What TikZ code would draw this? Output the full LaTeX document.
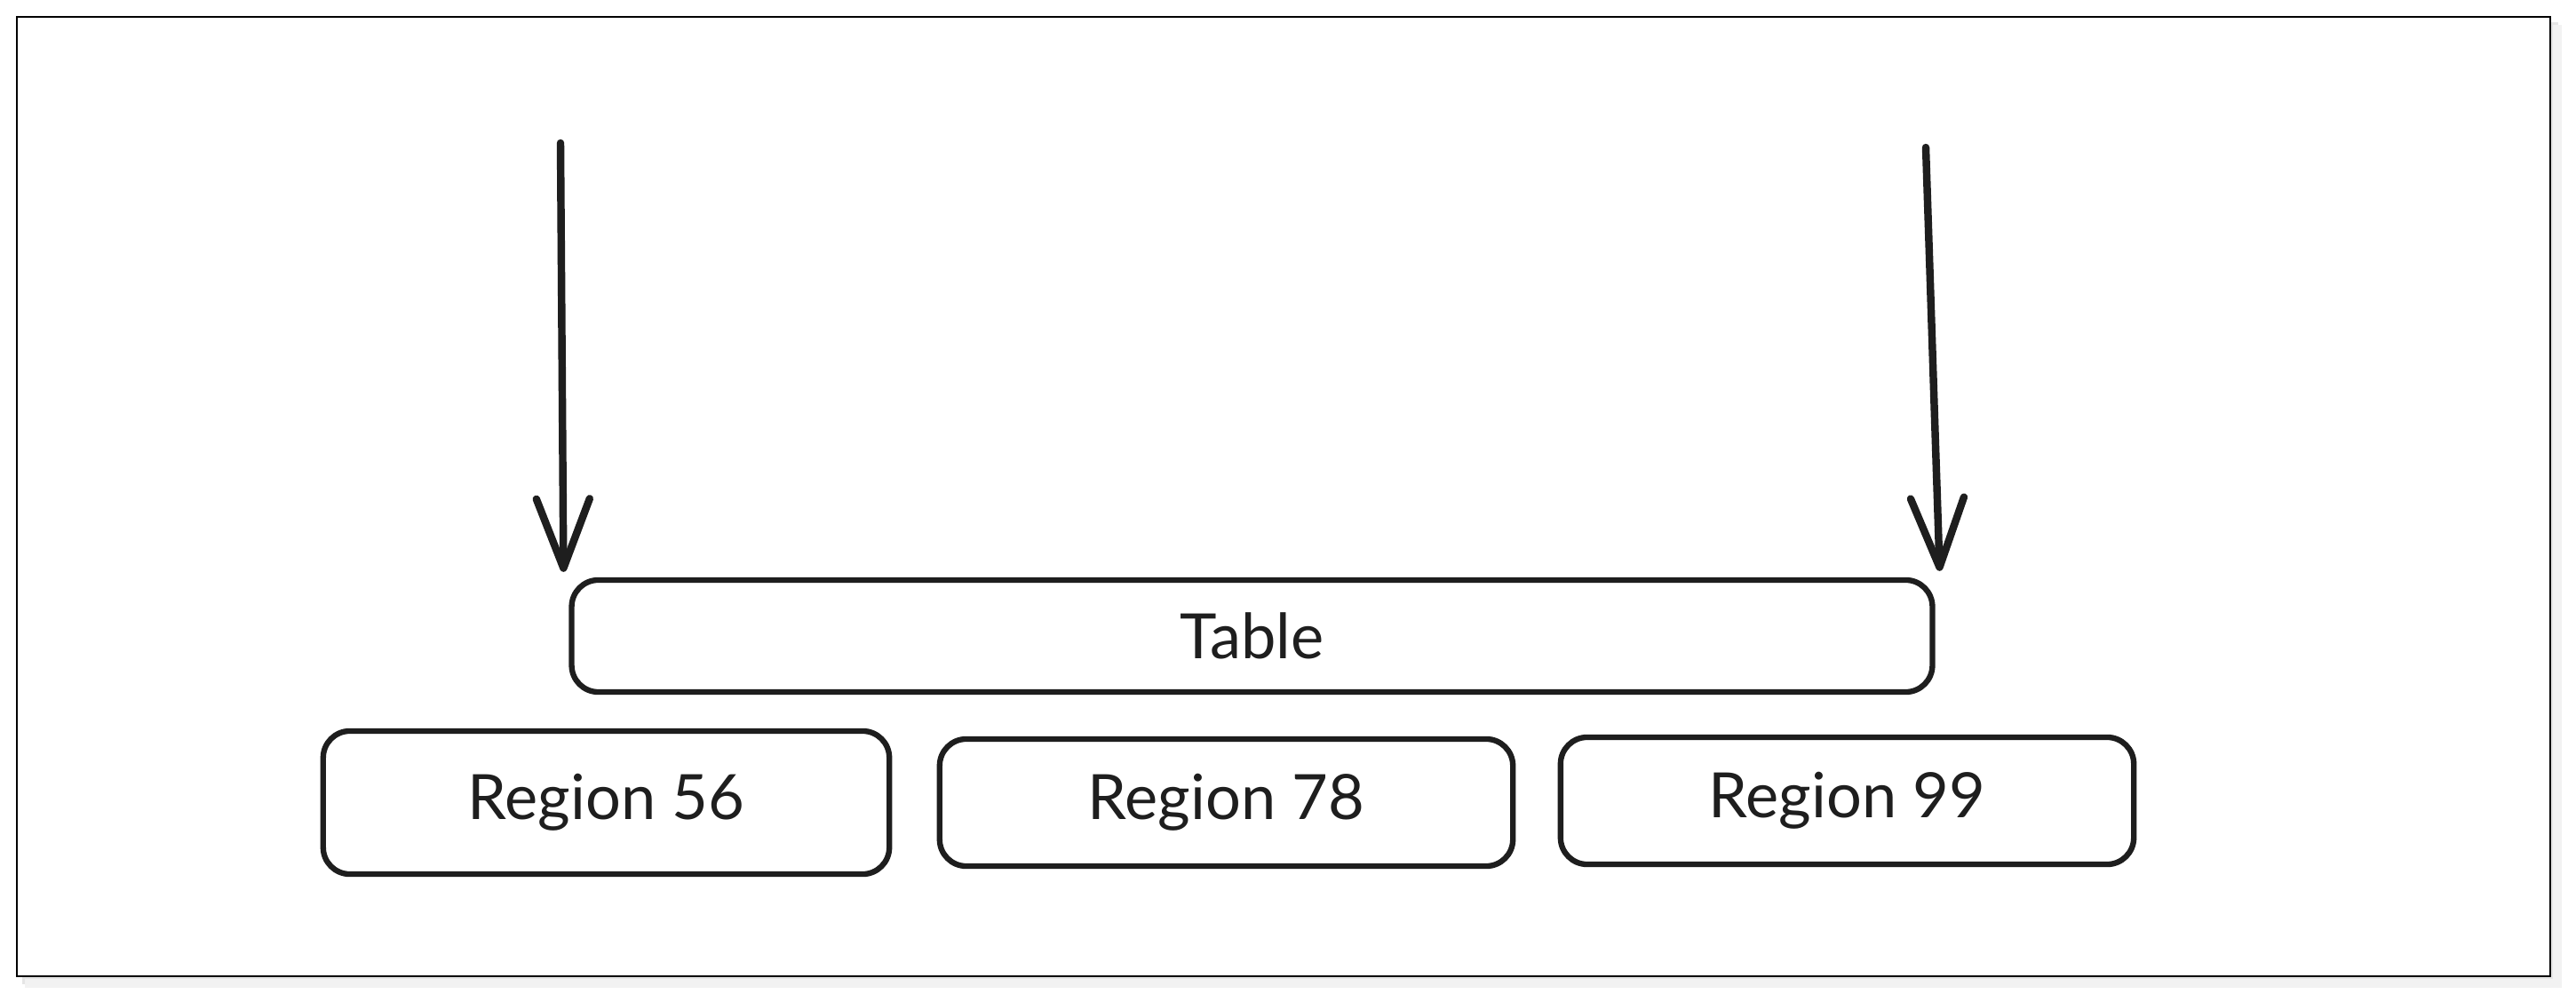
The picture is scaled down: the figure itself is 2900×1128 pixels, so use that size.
\documentclass[tikz,border=0pt]{standalone}
\usepackage{fontspec}
\setmainfont{Lato}
\usetikzlibrary{arrows.meta}
\definecolor{ink}{HTML}{1E1E1E}
\begin{document}
\begin{tikzpicture}[x=0.01cm,y=-0.01cm,
  boxstyle/.style={draw=ink, line width=1.8pt, rounded corners=0.3cm, inner sep=0pt,
                   font=\fontsize{20}{24}\selectfont, text=ink},
  arr/.style={draw=ink, line width=2.4pt, line cap=round,
              -{Straight Barb[length=0.78cm,width=0.6cm,round]}},
  frame/.style={draw=black, line width=0.6pt}]
\useasboundingbox (0,0) rectangle (2900,1128);
% soft shadow of the frame
\draw[black!10, line width=3pt] (25,1103) -- (2875,1103) -- (2875,25);
\draw[black!5, line width=3pt] (28,1107) -- (2879,1107) -- (2879,28);
\draw[frame, fill=white] (19,19) rectangle (2871,1099);

\node[boxstyle, minimum width=15.31cm, minimum height=1.26cm] (tbl) at (1409.5,716) {Table};
\node[boxstyle, minimum width=6.37cm, minimum height=1.61cm] (r56) at (682.5,903.5) {Region 56};
\node[boxstyle, minimum width=6.45cm, minimum height=1.43cm] (r78) at (1380.5,903.5) {Region 78};
\node[boxstyle, minimum width=6.45cm, minimum height=1.43cm] (r99) at (2079.5,901.5) {Region 99};

\coordinate (s1) at (631,161);
\coordinate (s2) at (2168,166);
\draw[arr] (s1) -- ([shift={(-6,-6)}]tbl.north west);
\draw[arr] (s2) -- ([shift={(5,-7)}]tbl.north east);
\end{tikzpicture}
\end{document}
